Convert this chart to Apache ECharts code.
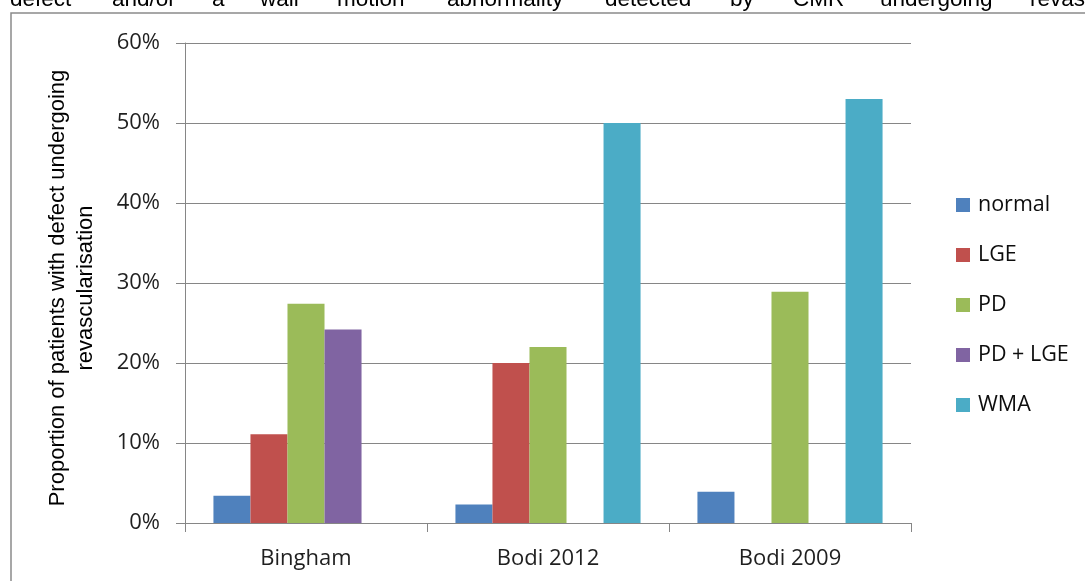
<!DOCTYPE html>
<html>
<head>
<meta charset="utf-8">
<script src="https://cdn.jsdelivr.net/npm/echarts@6/dist/echarts.min.js"></script>
<style>html,body{margin:0;padding:0;background:#fff;}#c{width:1085px;height:581px;}</style>
</head>
<body>
<div id="c"></div>
<script>
// ---- data ----
const categories = ['Bingham', 'Bodi 2012', 'Bodi 2009'];
const seriesNames = ['normal', 'LGE', 'PD', 'PD + LGE', 'WMA'];
const normal = [3.4, 2.3, 3.9];
const lge = [11.1, 20.0, null];
const pd = [27.4, 22.0, 28.9];
const pdLge = [24.2, null, null];
const wma = [null, 50.0, 53.0];
const yTicks = { min: 0, max: 60, interval: 10 };
const yTitle = 'Proportion of patients with defect undergoing\nrevascularisation';
const topWords = ['defect', 'and/or', 'a', 'wall', 'motion', 'abnormality', 'detected', 'by', 'CMR', 'undergoing', 'revas'];

// ---- layout / style ----
const topWordX = [10, 112, 212, 260, 337, 447, 605, 730, 793, 880, 1030];
const colors = ['#4F81BD', '#C0504D', '#9BBB59', '#8064A2', '#4BACC6'];
const gridColor = '#868686';
const labelFont = 'Open Sans';
const values = [normal, lge, pd, pdLge, wma];

const chart = echarts.init(document.getElementById('c'), null, { renderer: 'canvas' });

const graphics = [
  {
    type: 'polyline', silent: true,
    shape: { points: [[11, 581], [11, 13], [1085, 13]] },
    style: { stroke: '#8a8a8a', lineWidth: 1.5, fill: null }
  },
  {
    type: 'text', x: 72, y: 288, rotation: Math.PI / 2,
    style: {
      text: yTitle, align: 'center', verticalAlign: 'middle',
      font: '22px "Liberation Sans", Arial, sans-serif', lineHeight: 28, fill: '#000'
    }
  }
];
topWords.forEach((w, i) => {
  graphics.push({
    type: 'text', x: topWordX[i], y: 0,
    style: { text: w, align: 'left', verticalAlign: 'middle', font: '22.5px "Liberation Sans", Arial, sans-serif', fill: '#000' }
  });
});

chart.setOption({
  animation: false,
  color: colors,
  grid: { left: 185, right: 174, top: 43, bottom: 58, containLabel: false },
  legend: {
    orient: 'vertical', left: 956, top: 194, padding: 0,
    itemWidth: 14, itemHeight: 14, itemGap: 28, icon: 'rect',
    data: seriesNames,
    textStyle: { fontFamily: labelFont, fontSize: 21.5, color: '#0d0d0d', lineHeight: 21, padding: [0, 0, 0, 3] }
  },
  xAxis: {
    type: 'category', data: categories,
    axisLine: { lineStyle: { color: gridColor, width: 1 } },
    axisTick: { show: true, length: 9, lineStyle: { color: gridColor } },
    axisLabel: { fontFamily: labelFont, fontSize: 22, color: '#1f1f1f', margin: 25 }
  },
  yAxis: {
    type: 'value', min: yTicks.min, max: yTicks.max, interval: yTicks.interval,
    axisLine: { show: true, lineStyle: { color: gridColor, width: 1 } },
    axisTick: { show: true, length: 9, lineStyle: { color: gridColor } },
    splitLine: { lineStyle: { color: gridColor, width: 1 } },
    axisLabel: { formatter: '{value}%', fontFamily: labelFont, fontSize: 22, color: '#1f1f1f', margin: 25 }
  },
  graphic: graphics,
  series: seriesNames.map((name, i) => ({
    name, type: 'bar', data: values[i],
    barGap: '0%', barCategoryGap: '23.5%'
  }))
});
</script>
</body>
</html>
